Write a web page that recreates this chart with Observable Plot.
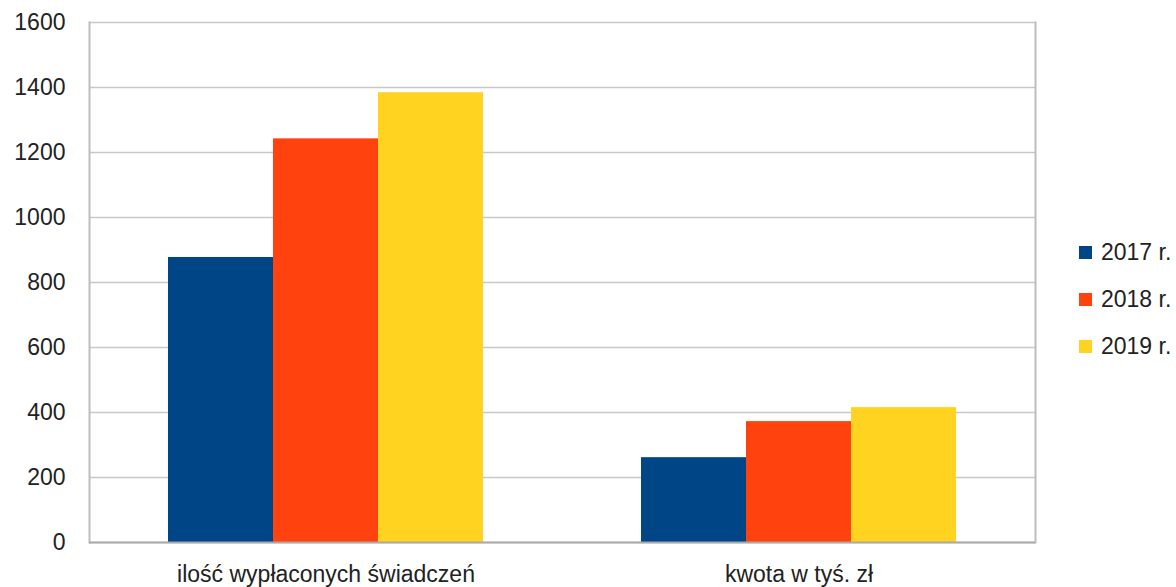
<!DOCTYPE html>
<html>
<head>
<meta charset="utf-8">
<script src="https://cdn.jsdelivr.net/npm/d3@7"></script>
<script src="https://cdn.jsdelivr.net/npm/@observablehq/plot@0.6"></script>
<style>
  html, body { margin: 0; padding: 0; background: #fff; }
  #wrap { position: relative; width: 1176px; height: 587px; overflow: hidden; font-family: "Liberation Sans", Arial, sans-serif; }
  #legend { position: absolute; left: 1079px; top: 229px; }
  .item { display: flex; align-items: center; height: 47px; font-size: 23px; color: #222; white-space: nowrap; }
  .sw { width: 13px; height: 13px; margin-right: 9px; flex: none; }
</style>
</head>
<body>
<div id="wrap"><div id="chart"></div><div id="legend"></div></div>
<script>
const categories = ["ilość wypłaconych świadczeń", "kwota w tyś. zł"];
const years = ["2017 r.", "2018 r.", "2019 r."];
const values2017 = [877, 261];
const values2018 = [1242, 372];
const values2019 = [1384, 415];
const colors = ["#004586", "#ff420e", "#ffd320"];
const yTicks = [0, 200, 400, 600, 800, 1000, 1200, 1400, 1600];

const series = [values2017, values2018, values2019];
const data = [];
categories.forEach((c, i) => years.forEach((y, j) => data.push({category: c, year: y, value: series[j][i]})));

const chart = Plot.plot({
  width: 1040,
  height: 587,
  marginTop: 22,
  marginBottom: 45,
  marginLeft: 89,
  marginRight: 5,
  style: {fontFamily: "Liberation Sans, Arial, sans-serif", fontSize: "23px", color: "#222", background: "#fff", overflow: "visible"},
  fx: {domain: categories, padding: 0, label: null, axis: "bottom", tickSize: 0, tickPadding: 23},
  x: {domain: years, paddingInner: 0, paddingOuter: 0.75, axis: null},
  y: {domain: [0, 1600], ticks: yTicks, tickFormat: "d", label: null, tickSize: 0, tickPadding: 24},
  color: {domain: years, range: colors},
  marks: [
    Plot.gridY(yTicks, {stroke: "#c8c8c8", strokeOpacity: 1, strokeWidth: 1.5}),
    Plot.frame({anchor: "left", fx: categories[0], stroke: "#bdbdbd", strokeWidth: 2}),
    Plot.frame({anchor: "right", fx: categories[1], stroke: "#bdbdbd", strokeWidth: 2}),
    Plot.barY(data, {fx: "category", x: "year", y: "value", fill: "year"}),
    Plot.ruleY([0], {stroke: "#aaaaaa", strokeWidth: 2})
  ]
});
document.getElementById("chart").appendChild(chart);

const legend = document.getElementById("legend");
years.forEach((y, i) => {
  const it = document.createElement("div");
  it.className = "item";
  it.innerHTML = `<span class="sw" style="background:${colors[i]}"></span><span>${y}</span>`;
  legend.appendChild(it);
});
</script>
</body>
</html>
